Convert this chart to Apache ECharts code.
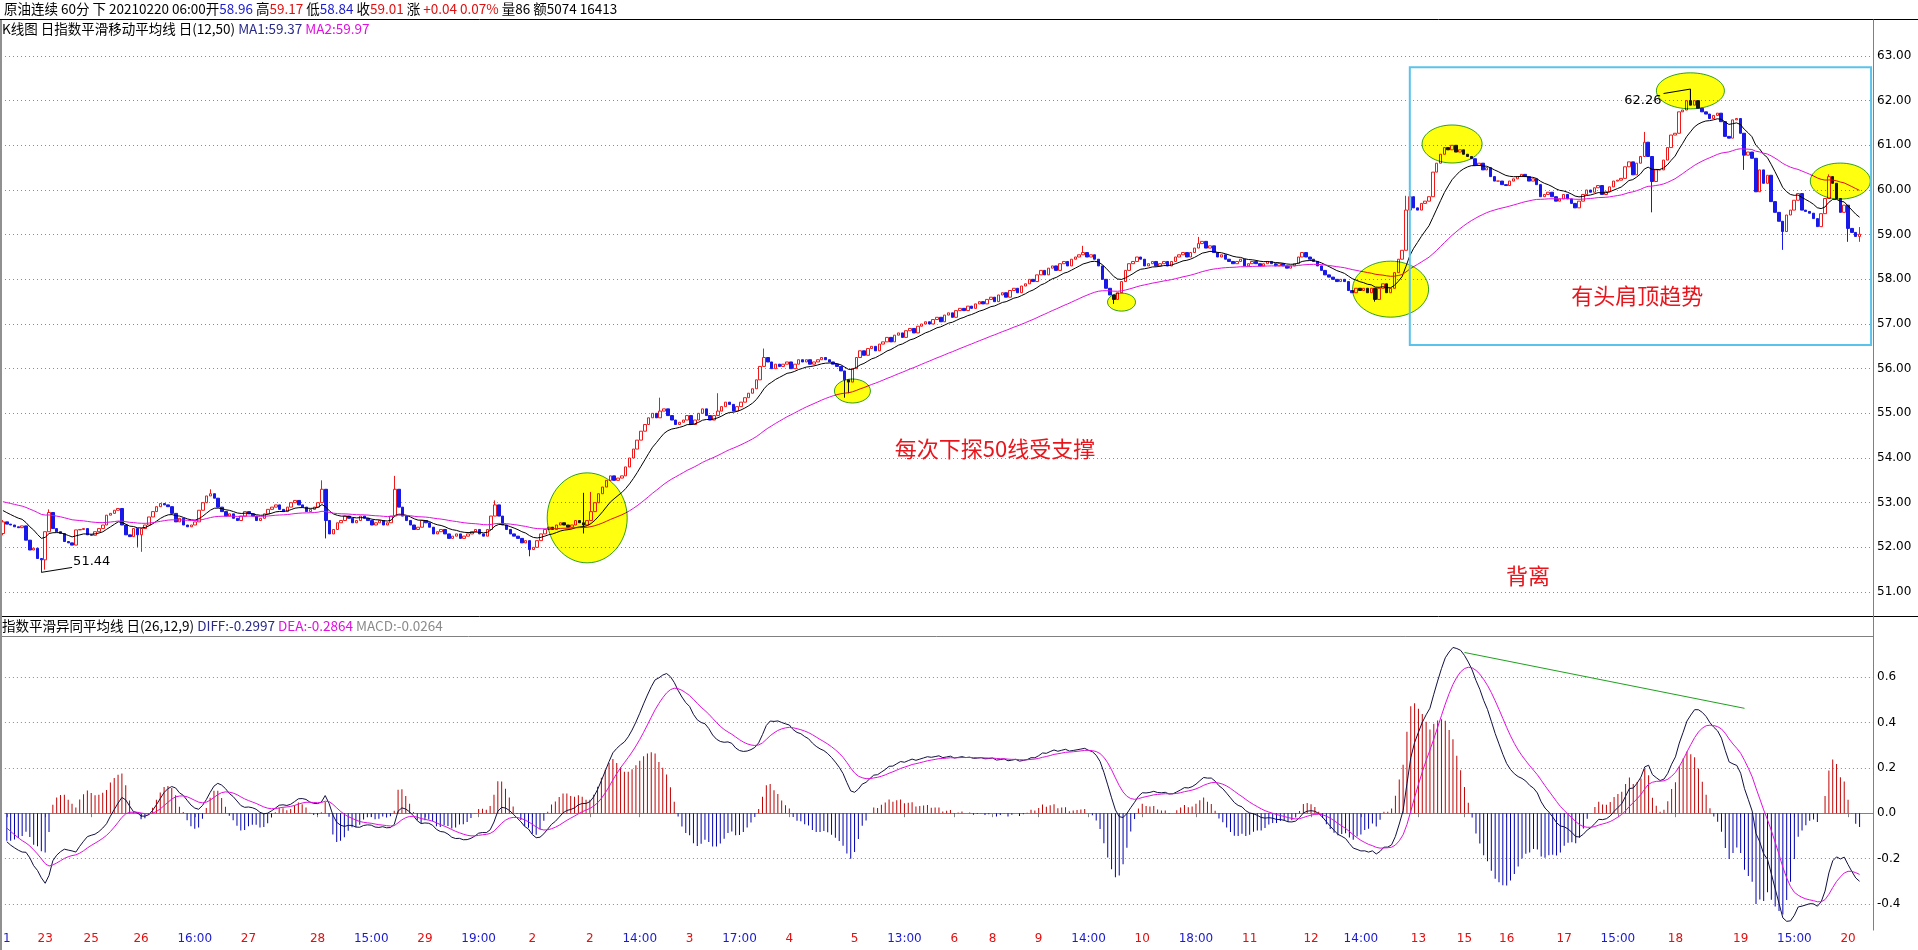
<!DOCTYPE html>
<html><head><meta charset="utf-8">
<script src="https://cdn.jsdelivr.net/npm/echarts@6/dist/echarts.min.js"></script>
<style>html,body{margin:0;padding:0;background:#fff;overflow:hidden}#c{width:1918px;height:950px}</style>
</head><body><div id="c"></div>
<script>
// ---- data (hourly closes) ----
const firstOpen = 52.31;
const closes = [
52.57,52.52,52.50,52.46,52.44,52.48,52.16,51.94,51.98,51.75,51.72,52.35,52.78,52.42,52.35,52.31,52.13,52.10,52.05,52.39,52.40,52.42,52.28,52.27,52.35,52.42,52.50,52.72,52.76,52.83,52.87,52.50,52.28,52.24,52.42,52.28,52.42,52.50,52.68,52.80,52.91,52.98,52.95,52.91,52.76,52.57,52.65,52.50,52.46,52.50,52.57,52.83,
53.0,53.15,53.2,53.1,52.9,52.8,52.7,52.75,52.65,
52.6,52.7,52.8,52.75,52.7,52.6,52.65,52.75,52.85,52.9,52.95,52.85,52.8,52.9,53.0,
53.05,52.95,52.9,52.8,52.85,52.9,53.0,
53.3,52.6,52.3,52.4,52.55,
52.6,52.7,52.65,52.55,52.6,52.7,52.65,52.6,52.5,52.55,52.6,52.5,52.55,52.7,
53.3,52.9,52.7,52.6,
52.5,52.4,52.45,52.6,52.55,52.45,52.3,52.35,52.4,52.3,52.2,52.25,52.3,52.2,52.25,
52.3,52.35,52.4,52.3,52.25,52.4,
52.7,52.95,52.7,52.5,
52.4,52.3,52.25,52.2,52.1,52.15,51.95,52.0,52.15,
52.3,52.4,52.45,52.4,52.5,52.55,52.5,52.45,52.5,52.6,52.55,52.5,
52.6,52.8,53.0,53.2,53.35,53.5,53.6,53.5,53.55,53.6,53.8,54.0,54.2,
54.4,54.6,54.75,54.9,55.0,54.9,55.05,55.1,
54.95,54.85,54.75,54.8,54.85,54.95,54.75,54.85,
55.0,55.1,54.95,54.85,54.95,55.05,55.15,55.25,55.2,55.05,55.15,55.25,55.35,55.45,55.55,55.75,
56.05,56.25,56.15,56.0,56.1,56.05,
56.1,56.15,56.0,56.1,56.2,56.15,56.2,56.1,56.15,56.2,56.25,56.2,56.15,56.1,56.05,55.95,55.75,55.7,
56.0,56.25,56.4,56.3,56.45,56.5,56.4,56.55,
56.6,56.7,56.6,56.75,56.8,56.7,56.85,56.9,56.8,56.95,57.0,57.05,
57.0,57.1,57.15,57.05,57.2,57.25,57.15,57.3,57.35,57.3,57.4,57.35,57.45,
57.5,57.45,57.55,57.6,57.5,57.65,57.7,57.6,57.75,57.8,57.7,57.85,57.9,
58.0,57.95,58.1,58.2,58.1,58.25,58.3,58.2,58.35,58.4,58.3,58.45,58.5,
58.55,58.6,58.5,58.55,58.45,58.3,
58.0,57.8,57.65,57.55,57.7,57.95,
58.2,58.35,58.4,58.5,58.45,58.3,58.35,58.4,58.3,58.35,58.4,58.3,58.4,
58.5,58.55,58.6,58.5,58.6,58.7,58.8,58.85,58.7,58.75,58.6,58.5,58.55,
58.45,58.4,58.35,58.4,58.45,58.3,58.35,58.4,58.35,58.3,58.35,58.4,58.35,58.3,58.35,58.3,58.25,58.3,58.35,
58.5,58.6,58.5,58.45,58.4,58.3,
58.2,58.1,58.05,58.0,57.95,
58.0,57.95,57.75,57.7,57.8,57.75,57.8,57.7,57.8,57.55,57.8,57.9,57.7,57.8,
58.15,58.45,58.65,59.55,59.85,59.6,59.55,59.7,59.75,59.85,60.4,60.6,
60.8,60.95,60.9,61.0,60.85,60.9,60.8,60.75,60.7,60.55,60.6,60.45,60.5,
60.3,60.2,60.2,60.12,60.1,60.2,60.25,60.3,60.35,60.3,60.2,60.25,60.12,59.85,59.9,59.95,59.85,59.75,59.8,
59.9,59.8,59.7,59.6,59.75,59.9,60.0,59.95,60.05,60.1,
59.9,59.96,60.07,60.2,60.22,60.26,60.52,60.63,60.34,60.6,60.75,61.07,60.75,60.19,60.45,60.45,60.67,60.95,61.23,61.27,61.75,61.79,62.0,61.9,62.0,61.83,61.75,61.7,61.6,61.67,61.72,61.53,61.2,61.16,61.57,61.6,61.27,60.78,60.85,60.71,59.96,60.45,60.15,60.33,59.74,59.5,59.3,59.07,59.44,59.55,59.77,59.92,59.55,59.52,59.48,59.36,59.18,59.47,59.81,60.3,60.15,59.81,59.5,59.66,59.14,
59.05,58.96,59.01
];
// notable wick extremes (bar index -> price)
const highs = {0:52.61, 12:52.85, 54:53.3, 83:53.5, 102:53.6, 128:53.05, 151:53.22, 153:53.24, 171:55.35, 186:55.45, 198:56.45, 281:58.75, 311:58.95, 365:59.87, 366:59.9, 427:61.3, 439:62.26, 475:60.35, 483:59.17};
const lows  = {0:52.27, 10:51.44, 11:51.5, 35:52.01, 36:51.9, 84:52.2, 137:51.8, 151:52.31, 219:55.35, 220:55.45, 289:57.45, 357:57.5, 429:59.5, 453:60.45, 463:58.66, 480:58.84, 483:58.84};
// indicator starting states read at the left edge
const ma1Start = 52.87, ma2Start = 53.04, ema26Start = 52.98, deaStart = -0.05;
// x-axis tick labels
const tickIdx  = [0,10,22,35,49,63,81,95,109,123,137,152,165,178,191,204,221,234,247,257,269,282,296,310,324,340,353,368,380,391,406,420,435,452,466,480];
const tickText = ['1','23','25','26','16:00','27','28','15:00','29','19:00','2','2','14:00','3','17:00','4','5','13:00','6','8','9','14:00','10','18:00','11','12','14:00','13','15','16','17','15:00','18','19','15:00','20'];
const tickBlue = ['1','16:00','15:00','19:00','14:00','17:00','13:00','18:00'];

// ---- derived ----
const N = closes.length, PAD = 3;
const cats = Array.from({length: N + PAD}, (_, i) => String(i));
const ohlc = closes.map((c, i) => {
  const o = i === 0 ? firstOpen : closes[i - 1];
  const h = highs[i] !== undefined ? highs[i] : Math.max(o, c);
  const l = lows[i] !== undefined ? lows[i] : Math.min(o, c);
  return [o, c, l, h];
});
function ema(src, n, seed) { const a = 2 / (n + 1); let e = seed; return src.map(v => (e = e + a * (v - e))); }
const ma1 = ema(closes, 12, ma1Start);
const ma2 = ema(closes, 50, ma2Start);
const e26 = ema(closes, 26, ema26Start);
const diff = ma1.map((v, i) => v - e26[i]);
const dea = ema(diff, 9, deaStart);
const hist = diff.map((v, i) => 2 * (v - dea[i]));
const tickMap = new Map(tickIdx.map((k, j) => [k, j]));
const RED = '#f01818', BLUE = '#1818e8';

const chart = echarts.init(document.getElementById('c'));
const LEFT = 1, WIDTH = 1872;
chart.setOption({
  animation: false,
  backgroundColor: '#ffffff',
  grid: [
    {left: LEFT, width: WIDTH, top: 56, height: 536},
    {left: LEFT, width: WIDTH, top: 677, height: 227}
  ],
  xAxis: [
    {type: 'category', gridIndex: 0, data: cats, boundaryGap: true, axisLine: {show: false}, axisTick: {show: false}, axisLabel: {show: false}, splitLine: {show: false}},
    {type: 'category', gridIndex: 1, data: cats, boundaryGap: true, position: 'bottom', offset: 26,
     axisLine: {show: true, lineStyle: {color: '#808080', width: 1}},
     axisTick: {show: true, alignWithLabel: true, length: 4, interval: (i) => tickMap.has(i), lineStyle: {color: '#808080'}},
     axisLabel: {interval: (i) => tickMap.has(i), margin: 3, fontSize: 12, fontFamily: 'DejaVu Sans',
       formatter: (v) => tickText[tickMap.get(Number(v))],
       color: (v) => tickBlue.includes(tickText[tickMap.get(Number(v))]) && Number(v) !== 152 ? '#1a1ad0' : '#e01010'},
     splitLine: {show: false}}
  ],
  yAxis: [
    {type: 'value', gridIndex: 0, position: 'right', min: 51, max: 63, interval: 1,
     axisLine: {show: false}, axisTick: {show: false},
     axisLabel: {margin: 4, fontSize: 12, fontFamily: 'DejaVu Sans', color: '#000', formatter: v => v.toFixed(2)},
     splitLine: {show: true, lineStyle: {color: '#8c8c8c', type: [1, 3], width: 1}}},
    {type: 'value', gridIndex: 1, position: 'right', min: -0.4, max: 0.6, interval: 0.2,
     axisLine: {show: false}, axisTick: {show: false},
     axisLabel: {margin: 4, fontSize: 12, fontFamily: 'DejaVu Sans', color: '#000', formatter: v => (Math.abs(v) < 1e-9 ? 0 : v).toFixed(1)},
     splitLine: {show: true, lineStyle: {color: '#8c8c8c', type: [1, 3], width: 1}}}
  ],
  series: [
    {type: 'candlestick', xAxisIndex: 0, yAxisIndex: 0, data: ohlc, barWidth: 3,
     itemStyle: {color: '#ffffff', color0: BLUE, borderColor: RED, borderColor0: BLUE, borderWidth: 1}},
    {type: 'line', xAxisIndex: 0, yAxisIndex: 0, data: ma1, showSymbol: false, lineStyle: {color: '#000000', width: 1}},
    {type: 'line', xAxisIndex: 0, yAxisIndex: 0, data: ma2, showSymbol: false, lineStyle: {color: '#e010e0', width: 1}},
    {type: 'bar', xAxisIndex: 1, yAxisIndex: 1, data: hist, barWidth: 1, clip: false,
     itemStyle: {color: (p) => p.value >= 0 ? '#c00000' : '#0000b0'}},
    {type: 'line', xAxisIndex: 1, yAxisIndex: 1, data: diff, showSymbol: false, clip: false, lineStyle: {color: '#101040', width: 1}},
    {type: 'line', xAxisIndex: 1, yAxisIndex: 1, data: dea, showSymbol: false, clip: false, lineStyle: {color: '#e010e0', width: 1}}
  ]
});

// ---- annotations anchored in data space ----
const P = (i, v) => chart.convertToPixel({xAxisIndex: 0, yAxisIndex: 0}, [i, v]);
const Q = (i, v) => chart.convertToPixel({xAxisIndex: 1, yAxisIndex: 1}, [i, v]);
const ellipses = [[152, 52.66, 40, 45], [221, 55.5, 18, 12], [291, 57.49, 14, 9], [361, 57.78, 38, 28], [376.5, 61.03, 30, 19], [439, 62.22, 34, 18], [478.2, 60.2, 30, 18]];
const g = [];
ellipses.forEach(e => { const c = P(e[0], e[1]); g.push({type: 'ellipse', shape: {cx: c[0], cy: c[1], rx: e[2], ry: e[3]}, style: {fill: '#ffff10', stroke: '#30a030', lineWidth: 1, blend: 'multiply'}, z: 100}); });
const b1 = P(366, 62.75), b2 = P(486, 56.53);
g.push({type: 'rect', shape: {x: b1[0], y: b1[1], width: b2[0] - b1[0], height: b2[1] - b1[1]}, style: {fill: 'none', stroke: '#5ac3ec', lineWidth: 2}, z: 101});
const lo = P(10, 51.44), loT = P(17.5, 51.55);
g.push({type: 'polyline', shape: {points: [lo, loT]}, style: {stroke: '#000', lineWidth: 1, fill: null}, z: 102});
g.push({type: 'text', x: loT[0] + 1, y: loT[1] - 6, style: {text: '51.44', fill: '#000', font: '13px "DejaVu Sans"', textVerticalAlign: 'middle'}, z: 102});
const hi = P(439, 62.26), hiT = P(431.5, 62.16);
g.push({type: 'polyline', shape: {points: [P(439, 62.0), hi, hiT]}, style: {stroke: '#000', lineWidth: 1, fill: null}, z: 102});
g.push({type: 'text', x: hiT[0] - 2, y: hiT[1] + 7, style: {text: '62.26', fill: '#000', font: '13px "DejaVu Sans"', textAlign: 'right', textVerticalAlign: 'middle'}, z: 102});
const t1 = P(231.8, 54.22), t2 = P(408.2, 57.63), t3 = P(390.8, 51.36);
[[t1, '每次下探50线受支撑'], [t2, '有头肩顶趋势'], [t3, '背离']].forEach(t => g.push({type: 'text', x: t[0][0], y: t[0][1], style: {text: t[1], fill: '#e8161c', font: '22px "Noto Sans CJK SC"', textVerticalAlign: 'middle'}, z: 102}));
const gl1 = Q(379.6, 0.708), gl2 = Q(452.7, 0.462);
g.push({type: 'line', shape: {x1: gl1[0], y1: gl1[1], x2: gl2[0], y2: gl2[1]}, style: {stroke: '#20a020', lineWidth: 1}, z: 102});

// ---- frame and headers ----
const line = (x1, y1, x2, y2, c, w) => ({type: 'line', shape: {x1, y1, x2, y2}, style: {stroke: c || '#000', lineWidth: w || 1}, z: 50});
g.push(line(0, 19.5, 1918, 19.5, '#000'));
g.push(line(0, 616.5, 1918, 616.5, '#000'));
g.push(line(0, 636.5, 1873.5, 636.5, '#808080'));
g.push(line(1873.5, 19.5, 1873.5, 930.5, '#808080'));
g.push(line(1, 20, 1, 950, '#909090', 2));
const rich = {k: {fill: '#000'}, b: {fill: '#1a1ad0'}, r: {fill: '#e01010'}, n: {fill: '#2a2a8a'}, m: {fill: '#e010e0'}, gr: {fill: '#8a8a8a'}};
const HF = '13.5px "Noto Sans CJK SC"';
const hdr = (x, y, text) => ({type: 'text', x, y, style: {text, font: HF, textVerticalAlign: 'middle', fill: '#000', rich: Object.fromEntries(Object.entries(rich).map(([k, s]) => [k, Object.assign({font: HF}, s)]))}, z: 60});
g.push(hdr(4, 9, '{k|原油连续 60分 下 20210220 06:00开}{b|58.96} {k|高}{r|59.17} {k|低}{b|58.84} {k|收}{r|59.01} {k|涨} {r|+0.04 0.07%} {k|量86 额5074 16413}'));
g.push(hdr(2, 29, '{k|K线图 日指数平滑移动平均线 日(12,50)} {n|MA1:59.37} {m|MA2:59.97}'));
g.push(hdr(2, 626, '{k|指数平滑异同平均线 日(26,12,9)} {n|DIFF:-0.2997} {m|DEA:-0.2864} {gr|MACD:-0.0264}'));
chart.setOption({graphic: g});
</script></body></html>
